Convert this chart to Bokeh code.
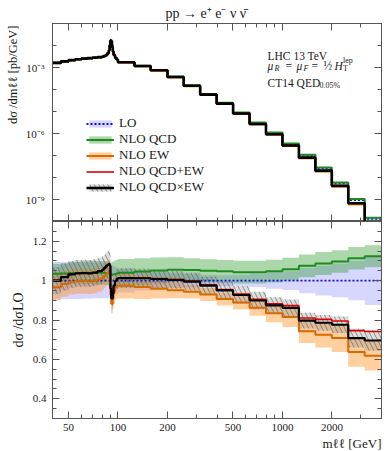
import numpy as np
from bokeh.plotting import figure
from bokeh.models import (Range1d, FixedTicker, CustomJSTickFormatter, LogAxis, LinearAxis,
                          Label, Legend, LegendItem, Title)
from bokeh.layouts import column
from bokeh.embed import file_html
from bokeh.resources import INLINE

FONT = "Liberation Serif"
FRAME = "#555555"
TXT = "#1a1a1a"

# ---------------- data ----------------
bin_edges = [40, 45, 50, 55, 60, 65, 70, 75, 80, 82, 84, 86, 88, 89, 90, 91, 92, 93, 94, 96, 98, 100,
             126, 158, 200, 251, 316, 398, 501, 631, 794, 1000, 1259, 1585, 1995, 2512, 3162, 4000]

# LO differential cross section [pb/GeV]
lo_xsec = [1.62e-3, 1.86e-3, 2.09e-3, 2.29e-3, 2.45e-3, 2.57e-3, 2.69e-3, 2.82e-3, 2.95e-3, 3.16e-3,
           3.47e-3, 4.17e-3, 5.75e-3, 9.55e-3, 1.74e-2, 1.66e-2, 9.55e-3, 5.75e-3, 3.80e-3, 2.75e-3,
           2.29e-3, 1.70e-3, 1.15e-3, 7.4e-4, 3.7e-4, 1.48e-4, 6.0e-5, 2.4e-5, 8.7e-6, 3.0e-6,
           1.05e-6, 3.3e-7, 1.0e-7, 2.6e-8, 5.4e-9, 9.5e-10, 1.32e-10]

# ratios to LO
ratio_lo = [1.0] * 37
ratio_qcd = [1.035, 1.036, 1.038, 1.039, 1.040, 1.040, 1.040, 1.040, 1.040, 1.039,
             1.038, 1.037, 1.036, 1.034, 1.032, 1.030, 1.030, 1.031, 1.032, 1.034,
             1.036, 1.040, 1.046, 1.051, 1.055, 1.054, 1.050, 1.047, 1.043, 1.043,
             1.048, 1.058, 1.075, 1.087, 1.097, 1.113, 1.124]
ratio_ew = [0.966, 0.983, 0.994, 0.998, 0.998, 0.997, 1.000, 1.008, 1.014, 1.023,
            1.034, 1.041, 1.047, 1.040, 0.930, 0.883, 0.883, 0.907, 0.945, 0.965,
            0.973, 0.974, 0.967, 0.959, 0.951, 0.944, 0.929, 0.907, 0.889, 0.862,
            0.834, 0.815, 0.743, 0.725, 0.708, 0.638, 0.619]
ratio_qcd_plus_ew = [1.001, 1.019, 1.032, 1.037, 1.038, 1.037, 1.040, 1.048, 1.054, 1.062,
                     1.072, 1.078, 1.083, 1.074, 0.962, 0.913, 0.913, 0.938, 0.977, 0.999,
                     1.009, 1.014, 1.013, 1.010, 1.006, 0.998, 0.979, 0.954, 0.932, 0.905,
                     0.882, 0.873, 0.810, 0.803, 0.795, 0.746, 0.742]
ratio_qcd_times_ew = [1.000, 1.018, 1.032, 1.037, 1.038, 1.037, 1.040, 1.048, 1.055, 1.063,
                      1.073, 1.080, 1.085, 1.075, 0.960, 0.910, 0.910, 0.935, 0.975, 0.998,
                      1.008, 1.013, 1.012, 1.008, 1.003, 0.995, 0.975, 0.950, 0.927, 0.899,
                      0.874, 0.862, 0.797, 0.786, 0.776, 0.708, 0.696]

# scale-uncertainty half widths (in units of the ratio)
unc_lo = [0.095, 0.095, 0.094, 0.093, 0.092, 0.091, 0.090, 0.090, 0.090, 0.090,
          0.090, 0.089, 0.088, 0.085, 0.080, 0.080, 0.078, 0.075, 0.072, 0.070,
          0.068, 0.060, 0.050, 0.042, 0.037, 0.034, 0.030, 0.027, 0.028, 0.033,
          0.042, 0.048, 0.064, 0.076, 0.085, 0.100, 0.124]
unc_qcd = [0.050, 0.052, 0.055, 0.057, 0.058, 0.059, 0.060, 0.060, 0.060, 0.060,
           0.060, 0.060, 0.060, 0.060, 0.060, 0.062, 0.064, 0.066, 0.068, 0.070,
           0.070, 0.070, 0.068, 0.066, 0.063, 0.060, 0.059, 0.058, 0.058, 0.058,
           0.058, 0.058, 0.058, 0.058, 0.057, 0.057, 0.056]
unc_ew = [0.065, 0.065, 0.065, 0.065, 0.065, 0.065, 0.065, 0.065, 0.060, 0.060,
          0.060, 0.060, 0.060, 0.060, 0.050, 0.050, 0.050, 0.050, 0.065, 0.065,
          0.065, 0.065, 0.060, 0.050, 0.040, 0.035, 0.033, 0.033, 0.036, 0.040,
          0.045, 0.050, 0.060, 0.065, 0.070, 0.075, 0.075]
unc_qcd_times_ew = [0.068, 0.068, 0.068, 0.068, 0.068, 0.068, 0.068, 0.068, 0.068, 0.068,
                    0.068, 0.068, 0.070, 0.070, 0.060, 0.060, 0.060, 0.060, 0.050, 0.050,
                    0.050, 0.050, 0.048, 0.046, 0.045, 0.045, 0.045, 0.045, 0.045, 0.045,
                    0.042, 0.042, 0.040, 0.040, 0.042, 0.048, 0.052]

x_tick_values = [50, 100, 200, 500, 1000, 2000]
x_minor_ticks = [40, 60, 70, 80, 90, 300, 400, 600, 700, 800, 900, 3000, 4000]
xsec_labelled_decades = [1e-9, 1e-6, 1e-3]
xsec_other_decades = [1e-10, 1e-8, 1e-7, 1e-5, 1e-4, 1e-2, 1e-1]
ratio_ticks = [0.4, 0.6, 0.8, 1.0, 1.2]
ratio_minor_ticks = [0.3, 0.35, 0.45, 0.5, 0.55, 0.65, 0.7, 0.75, 0.85, 0.9, 0.95,
                     1.05, 1.1, 1.15, 1.25, 1.3]

# ---------------- styles ----------------
C_LO, C_LO_BAND = "#1010d0", "#3030ff"
C_QCD, C_QCD_BAND = "#1f8a1f", "#2e9a2e"
C_EW, C_EW_BAND = "#d46a00", "#ff8c1a"
C_RED = "#dd0000"
C_BLK = "#000000"


def ext(a):
    a = list(a)
    return a + [a[-1]]


edges = np.array(bin_edges, dtype=float)
lo = np.array(lo_xsec)
series = {
    "lo": (np.array(ratio_lo), np.array(unc_lo)),
    "qcd": (np.array(ratio_qcd), np.array(unc_qcd)),
    "ew": (np.array(ratio_ew), np.array(unc_ew)),
    "qcdxew": (np.array(ratio_qcd_times_ew), np.array(unc_qcd_times_ew)),
}
r_qcd_p_ew = np.array(ratio_qcd_plus_ew)


def style_axis(ax, labels, major_in, minor_in, size="11px", standoff=5):
    ax.major_tick_in = major_in
    ax.major_tick_out = 0
    ax.minor_tick_in = minor_in
    ax.minor_tick_out = 0
    ax.axis_line_color = FRAME
    ax.major_tick_line_color = FRAME
    ax.minor_tick_line_color = FRAME
    if labels:
        ax.major_label_text_font = FONT
        ax.major_label_text_font_size = size
        ax.major_label_standoff = standoff
        ax.major_label_text_color = TXT
    else:
        ax.major_label_text_font_size = "0px"
        ax.major_label_standoff = 0
        ax.formatter = CustomJSTickFormatter(code="return '';")


def x_ticker():
    return FixedTicker(ticks=x_tick_values, minor_ticks=x_minor_ticks)


x_range = Range1d(40, 4000)

# ---------------- top panel ----------------
top = figure(x_axis_type="log", y_axis_type="log", x_range=x_range,
             y_range=Range1d(1e-10, 1e-1), frame_width=329, frame_height=198,
             min_border_left=48, min_border_right=13, min_border_top=23, min_border_bottom=0,
             output_backend="svg", toolbar_location=None)


def draw_panel(p, scale):
    rend = {}
    for key, col, alpha in [("lo", C_LO_BAND, 0.2), ("qcd", C_QCD_BAND, 0.4), ("ew", C_EW_BAND, 0.42)]:
        r, u = series[key]
        rend[key + "_band"] = p.varea_step(x=edges, y1=ext(scale * (r - u)), y2=ext(scale * (r + u)),
                                           step_mode="after", fill_color=col, fill_alpha=alpha)
    r, u = series["qcdxew"]
    rend["qcdxew_band"] = p.varea_step(x=edges, y1=ext(scale * (r - u)), y2=ext(scale * (r + u)),
                                       step_mode="after", fill_color="#8a8a8a", fill_alpha=0.28,
                                       hatch_pattern="\\", hatch_color="#555555", hatch_alpha=0.6,
                                       hatch_scale=9, hatch_weight=1)
    rend["lo_line"] = p.step(x=edges, y=ext(scale * series["lo"][0]), mode="after",
                             line_color=C_LO, line_width=1.8, line_dash="2 2")
    rend["qcd_line"] = p.step(x=edges, y=ext(scale * series["qcd"][0]), mode="after",
                              line_color=C_QCD, line_width=2)
    rend["ew_line"] = p.step(x=edges, y=ext(scale * series["ew"][0]), mode="after",
                             line_color=C_EW, line_width=2)
    rend["red_line"] = p.step(x=edges, y=ext(scale * r_qcd_p_ew), mode="after",
                              line_color=C_RED, line_width=1.6)
    rend["blk_line"] = p.step(x=edges, y=ext(scale * series["qcdxew"][0]), mode="after",
                              line_color=C_BLK, line_width=2.2)
    return rend


rt = draw_panel(top, lo)
rt["blk_line"].glyph.line_width = 2.6

top.grid.grid_line_color = None
top.outline_line_color = FRAME
top.background_fill_color = "white"
top.border_fill_color = "white"

top.yaxis.ticker = FixedTicker(ticks=xsec_labelled_decades, minor_ticks=xsec_other_decades)
top.yaxis.formatter = CustomJSTickFormatter(code="""
const e = Math.round(Math.log10(tick));
const sup = {"-": "\\u207b", "0": "\\u2070", "1": "\\u00b9", "2": "\\u00b2", "3": "\\u00b3",
             "4": "\\u2074", "5": "\\u2075", "6": "\\u2076", "7": "\\u2077", "8": "\\u2078", "9": "\\u2079"};
return "10" + String(e).split("").map(c => sup[c]).join("");
""")
style_axis(top.yaxis[0], True, 7, 4, size="11px", standoff=8)
ry = LogAxis(ticker=FixedTicker(ticks=xsec_labelled_decades, minor_ticks=xsec_other_decades))
style_axis(ry, False, 7, 4)
top.add_layout(ry, "right")

top.xaxis.ticker = x_ticker()
style_axis(top.xaxis[0], False, 7, 4)
tx = LogAxis(ticker=x_ticker())
style_axis(tx, False, 7, 4)
top.add_layout(tx, "above")

# title
top.title.text = "pp \u2192 e\u207a e\u207b \u03bd \u03bd\u0304"
top.title.align = "left"
top.title.offset = 113
top.title.standoff = 6
top.title.text_font = FONT
top.title.text_font_size = "14px"
top.title.text_font_style = "normal"
top.title.text_color = TXT

# y label of the main panel (top aligned)
top.add_layout(Title(text="d\u03c3 /dm\u2113\u2113 [pb/GeV]", align="right", offset=2, standoff=6,
                     text_font=FONT, text_font_size="12.5px", text_font_style="normal",
                     text_color=TXT), "left")

legend = Legend(items=[
    LegendItem(label="LO", renderers=[rt["lo_band"], rt["lo_line"]]),
    LegendItem(label="NLO QCD", renderers=[rt["qcd_band"], rt["qcd_line"]]),
    LegendItem(label="NLO EW", renderers=[rt["ew_band"], rt["ew_line"]]),
    LegendItem(label="NLO QCD+EW", renderers=[rt["red_line"]]),
    LegendItem(label="NLO QCD\u00d7EW", renderers=[rt["qcdxew_band"], rt["blk_line"]]),
], location=(34, 26), orientation="vertical", glyph_width=28, glyph_height=9,
    label_height=12, spacing=0, padding=0, margin=0, label_standoff=5,
    label_text_font=FONT, label_text_font_size="13px", label_text_color=TXT,
    border_line_alpha=0, background_fill_alpha=0)
top.add_layout(legend)


def add_label(p, x, y, text, size="11.5px", style="normal", align="left"):
    p.add_layout(Label(x=x, y=y, x_units="screen", y_units="screen", text=text,
                       text_font=FONT, text_font_size=size, text_font_style=style,
                       text_color=TXT, text_align=align, text_baseline="alphabetic"))


# annotation block (inside the frame, frame-relative screen coordinates)
add_label(top, 215, 166, "LHC 13 TeV")
Y2 = 156
add_label(top, 215, Y2, "\u03bc", style="italic")
add_label(top, 222, Y2 - 2.5, "R", size="8px", style="italic")
add_label(top, 233, Y2, "=")
add_label(top, 244, Y2, "\u03bc", style="italic")
add_label(top, 251, Y2 - 2.5, "F", size="8px", style="italic")
add_label(top, 259, Y2, "=")
add_label(top, 271, Y2, "\u00bd")
add_label(top, 282, Y2, "H", style="italic")
add_label(top, 290.5, Y2 - 2.5, "T", size="8px")
add_label(top, 290.5, Y2 + 5, "lep", size="8px")
add_label(top, 215, 139, "CT14 QED")
add_label(top, 267, 136, "0.05%", size="8px")

# ---------------- ratio panel ----------------
bot = figure(x_axis_type="log", x_range=x_range, y_range=Range1d(0.3, 1.3),
             frame_width=329, frame_height=197, min_border_left=48, min_border_right=13,
             min_border_top=0, min_border_bottom=33, output_backend="svg", toolbar_location=None)
rb = draw_panel(bot, 1.0)
bot.grid.grid_line_color = None
bot.outline_line_color = FRAME
bot.background_fill_color = "white"
bot.border_fill_color = "white"

bot.yaxis.ticker = FixedTicker(ticks=ratio_ticks, minor_ticks=ratio_minor_ticks)
bot.yaxis.formatter = CustomJSTickFormatter(
    code="return Math.abs(tick - 1) < 1e-9 ? '1' : tick.toFixed(1);")
style_axis(bot.yaxis[0], True, 7, 4, size="11px", standoff=6)
by = LinearAxis(ticker=FixedTicker(ticks=ratio_ticks, minor_ticks=ratio_minor_ticks))
style_axis(by, False, 7, 4)
bot.add_layout(by, "right")

bot.xaxis.ticker = x_ticker()
bot.xaxis.formatter = CustomJSTickFormatter(code="return String(Math.round(tick));")
style_axis(bot.xaxis[0], True, 7, 4, size="11px", standoff=5)
bx = LogAxis(ticker=x_ticker())
style_axis(bx, False, 7, 4)
bot.add_layout(bx, "above")

# ratio y label
bot.add_layout(Title(text="d\u03c3 /d\u03c3LO", align="center", standoff=8,
                     text_font=FONT, text_font_size="14px", text_font_style="normal",
                     text_color=TXT), "left")

# x label, right aligned at the frame edge
bot.add_layout(Title(text="m\u2113\u2113 [GeV]", align="right", offset=0, standoff=0,
                     text_font=FONT, text_font_size="13px", text_font_style="normal",
                     text_color=TXT), "below")

layout = column(top, bot, spacing=0)
open("out.html", "w").write(file_html(layout, INLINE))
